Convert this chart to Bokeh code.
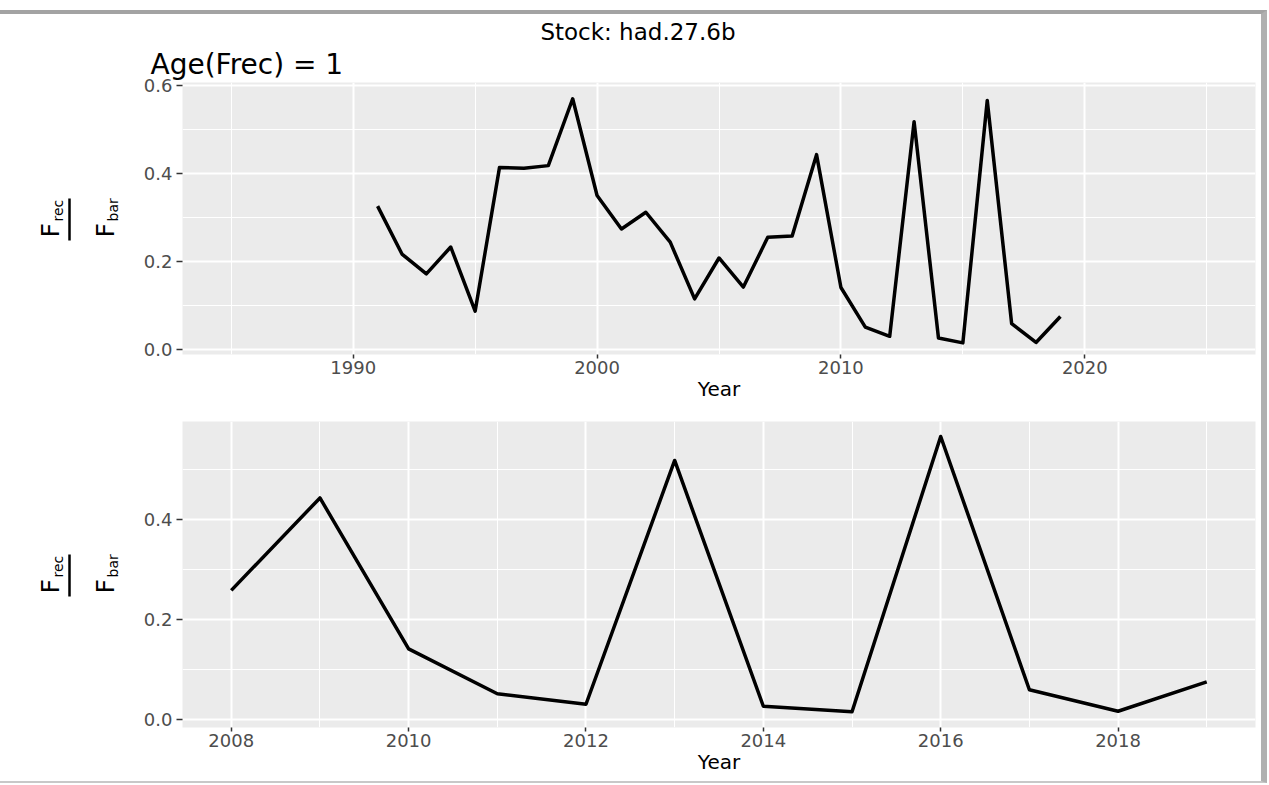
import math
from bokeh.plotting import figure
from bokeh.layouts import column, row
from bokeh.models import Title, FixedTicker, Range1d, NumeralTickFormatter
from bokeh.core.properties import value
from bokeh.embed import file_html
from bokeh.resources import INLINE

# ---- data ----
years_all = list(range(1991, 2020))
frec_all = [0.326, 0.217, 0.172, 0.233, 0.087, 0.414, 0.412, 0.418, 0.570, 0.350,
            0.274, 0.312, 0.244, 0.115, 0.208, 0.142, 0.255, 0.258, 0.443, 0.141,
            0.051, 0.030, 0.518, 0.026, 0.015, 0.566, 0.059, 0.016, 0.075]
years_recent = list(range(2008, 2020))
frec_recent = [0.258, 0.443, 0.141, 0.051, 0.030, 0.518, 0.026, 0.015, 0.566,
               0.059, 0.016, 0.075]

top_x_major = [1990, 2000, 2010, 2020]
top_x_minor = [1985, 1995, 2005, 2015, 2025]
bot_x_major = [2008, 2010, 2012, 2014, 2016, 2018]
bot_x_minor = [2009, 2011, 2013, 2015, 2017, 2019]
top_y_major = [0.0, 0.2, 0.4, 0.6]
bot_y_major = [0.0, 0.2, 0.4]
y_minor = [0.1, 0.3, 0.5]

stock_title = "Stock: had.27.6b"
age_title = "Age(Frec) = 1"
x_title = "Year"
frac_main = ["F", "F"]
frac_sub = ["rec", "bar"]

FONT = "DejaVu Sans"
LEFT_W = 124


def style(p, xmaj, xmin, ymaj, ymin):
    p.background_fill_color = "#EBEBEB"
    p.border_fill_color = "white"
    p.outline_line_color = None
    p.xaxis.ticker = FixedTicker(ticks=xmaj, minor_ticks=xmin)
    p.yaxis.ticker = FixedTicker(ticks=ymaj, minor_ticks=ymin)
    p.xaxis.formatter = NumeralTickFormatter(format="0")
    p.yaxis.formatter = NumeralTickFormatter(format="0.0")
    for g in (p.xgrid, p.ygrid):
        g.grid_line_color = "white"
        g.grid_line_width = 2
        g.minor_grid_line_color = "white"
        g.minor_grid_line_width = 1
    for ax in (p.xaxis, p.yaxis):
        ax.axis_line_color = None
        ax.minor_tick_line_color = None
        ax.major_tick_line_color = "#333333"
        ax.major_tick_line_width = 1.5
        ax.major_tick_in = 0
        ax.major_label_text_color = "#4D4D4D"
        ax.major_label_text_font = FONT
        ax.major_label_text_font_size = "18px"
        ax.axis_label_text_font = FONT
        ax.axis_label_text_font_style = "normal"
        ax.axis_label_text_color = "black"
        ax.axis_label_text_font_size = "20px"
    p.xaxis.major_tick_out = 4
    p.xaxis.major_label_standoff = 2
    p.xaxis.axis_label_standoff = 0
    p.xaxis.axis_label = x_title
    p.yaxis.major_tick_out = 6
    p.yaxis.major_label_standoff = 4
    p.yaxis.axis_label = None


def label_fig(height, frame_h):
    """Narrow figure (frame aligned with the panel) holding the rotated
    F_rec / F_bar axis label; its ranges are in pixels of the frame."""
    lf = figure(width=LEFT_W, height=height, output_backend="svg",
                toolbar_location=None, x_axis_location=None, y_axis_location=None,
                x_range=Range1d(0, LEFT_W), y_range=Range1d(0, frame_h),
                min_border=0, title=None)
    lf.outline_line_color = None
    lf.xgrid.visible = False
    lf.ygrid.visible = False
    lf.background_fill_color = "white"
    lf.border_fill_color = "white"
    cy = frame_h / 2
    common = dict(angle=90, angle_units="deg", text_font=value(FONT),
                  text_color="black", text_align="left",
                  text_baseline="alphabetic")
    lf.text(x=[50, 105], y=[cy - 19, cy - 19], text=frac_main,
            text_font_size="25px", **common)
    lf.text(x=[57, 112], y=[cy - 3, cy - 3], text=frac_sub,
            text_font_size="14px", **common)
    lf.segment(x0=[69], y0=[cy - 22], x1=[69], y1=[cy + 20],
               line_width=2.5, line_color="black")
    return lf


# ---- top panel ----
H1 = 389
p1 = figure(width=1137, height=H1, output_backend="svg", toolbar_location=None,
            x_range=Range1d(1983, 2027), y_range=Range1d(-0.0114, 0.607),
            min_border_left=58, min_border_right=6, min_border_top=68,
            min_border_bottom=49, title=stock_title)
style(p1, top_x_major, top_x_minor, top_y_major, y_minor)
p1.title.align = "right"
p1.title.offset = 520
p1.title.text_font = FONT
p1.title.text_font_size = "23px"
p1.title.text_font_style = "normal"
p1.title.text_color = "black"
p1.title.standoff = 0
p1.add_layout(Title(text=age_title, align="left", offset=-32, text_font=FONT,
                    text_font_size="28px", text_font_style="normal",
                    text_color="black", standoff=3), "above")
p1.line(years_all, frec_all, line_width=3.5, line_color="black", line_join="round")
lf1 = label_fig(H1, 272)

# ---- bottom panel ----
H2 = 378
p2 = figure(width=1137, height=H2, output_backend="svg", toolbar_location=None,
            x_range=Range1d(2007.45, 2019.55), y_range=Range1d(-0.0165, 0.596),
            min_border_left=58, min_border_right=6, min_border_top=18,
            min_border_bottom=54, title=None)
style(p2, bot_x_major, bot_x_minor, bot_y_major, y_minor)
p2.line(years_recent, frec_recent, line_width=3.5, line_color="black", line_join="round")
lf2 = label_fig(H2, 306)

layout = column(row(lf1, p1, spacing=0), row(lf2, p2, spacing=0), spacing=0,
                styles={"margin-top": "10px",
                        "border-top": "4px solid #a3a3a3",
                        "border-right": "6px solid #b0b0b0",
                        "border-bottom": "2px solid #c8c8c8"})
open("out.html", "w").write(file_html(layout, INLINE))
